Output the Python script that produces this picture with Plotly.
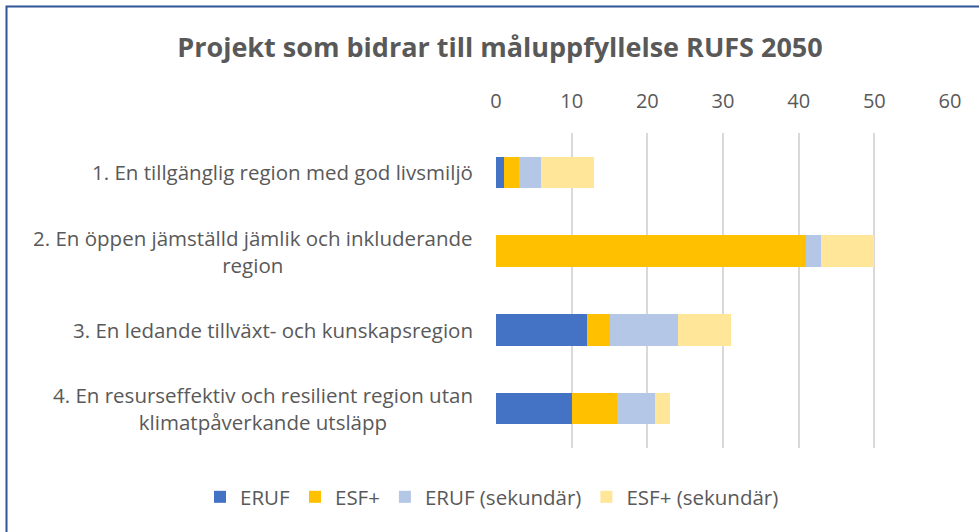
import plotly.graph_objects as go

categories = [
    "1. En tillgänglig region med god livsmiljö",
    "2. En öppen jämställd jämlik och inkluderande<br>region",
    "3. En ledande tillväxt- och kunskapsregion",
    "4. En resurseffektiv och resilient region utan<br>klimatpåverkande utsläpp",
]
cat_keys = ["c1", "c2", "c3", "c4"]
series_names = ["ERUF", "ESF+", "ERUF (sekundär)", "ESF+ (sekundär)"]
eruf = [1, 0, 12, 10]
esf = [2, 41, 3, 6]
eruf_sek = [3, 2, 9, 5]
esf_sek = [7, 7, 7, 2]
x_ticks = [0, 10, 20, 30, 40, 50, 60]

colors = ["#4472C4", "#FFC000", "#B4C7E7", "#FFE699"]
FONT = "Open Sans, Calibri, sans-serif"
TXT = "#595959"

fig = go.Figure()
for name, vals, col in zip(series_names, [eruf, esf, eruf_sek, esf_sek], colors):
    fig.add_trace(go.Bar(
        y=cat_keys, x=vals, name=name, orientation="h",
        marker=dict(color=col, line=dict(width=0)),
    ))

W, H = 979, 532
L, R, T, B = 496, 29, 133, 84
pw, ph = W - L - R, H - T - B

def px_x(p):
    return (p - L) / pw

def px_y(p):
    return (H - B - p) / ph

annotations = []
for key, lab in zip(cat_keys, categories):
    annotations.append(dict(
        x=0, xref="paper", y=key, yref="y", text=lab, showarrow=False,
        xanchor="right", yanchor="middle", align="center", xshift=-21,
        font=dict(family=FONT, size=20.5, color=TXT),
    ))

fig.update_layout(
    width=W, height=H,
    margin=dict(l=L, r=R, t=T, b=B),
    paper_bgcolor="white", plot_bgcolor="white",
    barmode="stack", bargap=0.6,
    title=dict(
        text="<b>Projekt som bidrar till måluppfyllelse RUFS 2050</b>",
        x=500 / W, xref="container", xanchor="center",
        y=(H - 48) / H, yref="container", yanchor="middle",
        font=dict(family=FONT, size=27, color=TXT),
    ),
    xaxis=dict(
        side="top", range=[0, 60], tickvals=x_ticks,
        showgrid=True, gridcolor="#D9D9D9", gridwidth=1.5,
        zeroline=False, showline=False, ticks="",
        ticklabelstandoff=20,
        tickfont=dict(family=FONT, size=20, color=TXT),
        fixedrange=True,
    ),
    yaxis=dict(
        type="category", categoryorder="array", categoryarray=cat_keys,
        autorange="reversed", showticklabels=False, showgrid=False,
        zeroline=False, showline=False, ticks="",
    ),
    legend=dict(
        orientation="h", xref="paper", x=px_x(200), xanchor="left",
        yref="paper", y=px_y(497), yanchor="middle",
        font=dict(family=FONT, size=20.5, color=TXT),
        traceorder="normal", itemwidth=30,
    ),
    annotations=annotations,
    shapes=[dict(
        type="rect", xref="paper", yref="paper",
        x0=px_x(6.5), x1=px_x(990), y0=px_y(545), y1=px_y(6.5),
        line=dict(color="#2F5597", width=2), fillcolor="rgba(0,0,0,0)",
        layer="above",
    )],
    showlegend=True,
)

fig.write_html(
    "out.html",
    config={"displayModeBar": False},
    post_script="document.body.style.margin='0';document.body.style.overflow='hidden';",
)
